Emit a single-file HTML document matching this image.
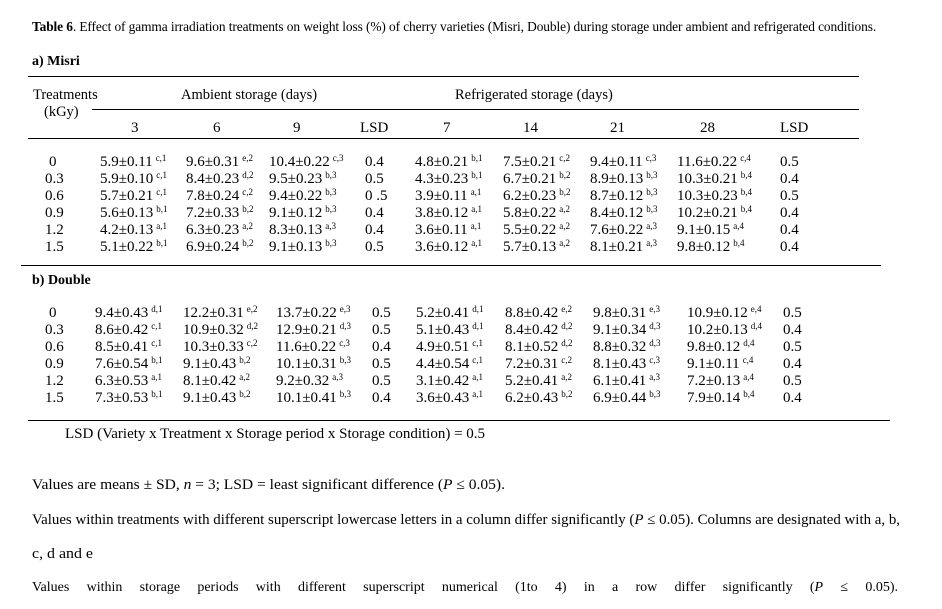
<!DOCTYPE html>
<html><head><meta charset="utf-8">
<style>
body{margin:0;background:#fff;}
#pg{position:relative;width:942px;height:609px;overflow:hidden;font-family:"Liberation Serif",serif;color:#000;}
.t{position:absolute;white-space:nowrap;font-size:15px;line-height:16px;}
.t sup{font-size:9px;vertical-align:5px;line-height:0;margin-left:3px;}
.r{position:absolute;height:1px;background:#000;}
b{font-weight:bold;}
</style></head><body>
<div id="pg">
<div class="t" style="left:32px;top:18px;width:866px;font-size:13.4px;white-space:normal;text-align:justify;line-height:18px;letter-spacing:-0.1px"><b>Table 6</b>. Effect of gamma irradiation treatments on weight loss (%) of cherry varieties (Misri, Double) during storage under ambient and refrigerated conditions.</div>
<div class="t" style="left:32px;top:54px;font-size:14px"><b>a) Misri</b></div>
<div class="r" style="left:28px;top:76px;width:831px"></div>
<div class="t" style="left:33px;top:87px;font-size:14.5px">Treatments</div>
<div class="t" style="left:44px;top:104px;font-size:14.5px">(kGy)</div>
<div class="t" style="left:181px;top:87px;font-size:14.5px">Ambient storage (days)</div>
<div class="t" style="left:455px;top:87px;font-size:14.5px">Refrigerated storage (days)</div>
<div class="r" style="left:92px;top:109px;width:767px"></div>
<div class="r" style="left:28px;top:138px;width:831px"></div>
<div class="r" style="left:21px;top:265px;width:860px"></div>
<div class="t" style="left:32px;top:273px;font-size:14px"><b>b) Double</b></div>
<div class="r" style="left:28px;top:420px;width:862px"></div>
<div class="t" style="left:65px;top:426px;font-size:15px">LSD (Variety x Treatment x Storage period x Storage condition) = 0.5</div>
<svg style="position:absolute;left:0;top:0" width="942" height="609">
<text x="32" y="489" font-family="Liberation Serif" font-size="15" textLength="473" lengthAdjust="spacingAndGlyphs">Values are means ± SD, <tspan font-style="italic">n</tspan> = 3; LSD = least significant difference (<tspan font-style="italic">P</tspan> ≤ 0.05).</text>
<text x="32" y="524" font-family="Liberation Serif" font-size="15" textLength="868" lengthAdjust="spacingAndGlyphs">Values within treatments with different superscript lowercase letters in a column differ significantly (<tspan font-style="italic">P</tspan> ≤ 0.05). Columns are designated with a, b,</text>
<text x="32" y="558" font-family="Liberation Serif" font-size="15" textLength="61" lengthAdjust="spacingAndGlyphs">c, d and e</text>
</svg>
<div class="t" style="left:32px;top:580px;width:866px;font-size:14px;white-space:normal;text-align:justify;text-align-last:justify">Values within storage periods with different superscript numerical (1to 4) in a row differ significantly (<i>P</i> ≤ 0.05).</div>
</div>
<script>
var colHeaders=["3","6","9","LSD","7","14","21","28","LSD"];
var colHeaderX=[131,213,293,360,443,523,610,700,780];
var treatments=["0","0.3","0.6","0.9","1.2","1.5"];
var misri=[
["5.9±0.11|c,1","9.6±0.31|e,2","10.4±0.22|c,3","0.4","4.8±0.21|b,1","7.5±0.21|c,2","9.4±0.11|c,3","11.6±0.22|c,4","0.5"],
["5.9±0.10|c,1","8.4±0.23|d,2","9.5±0.23|b,3","0.5","4.3±0.23|b,1","6.7±0.21|b,2","8.9±0.13|b,3","10.3±0.21|b,4","0.4"],
["5.7±0.21|c,1","7.8±0.24|c,2","9.4±0.22|b,3","0 .5","3.9±0.11|a,1","6.2±0.23|b,2","8.7±0.12|b,3","10.3±0.23|b,4","0.5"],
["5.6±0.13|b,1","7.2±0.33|b,2","9.1±0.12|b,3","0.4","3.8±0.12|a,1","5.8±0.22|a,2","8.4±0.12|b,3","10.2±0.21|b,4","0.4"],
["4.2±0.13|a,1","6.3±0.23|a,2","8.3±0.13|a,3","0.4","3.6±0.11|a,1","5.5±0.22|a,2","7.6±0.22|a,3","9.1±0.15|a,4","0.4"],
["5.1±0.22|b,1","6.9±0.24|b,2","9.1±0.13|b,3","0.5","3.6±0.12|a,1","5.7±0.13|a,2","8.1±0.21|a,3","9.8±0.12|b,4","0.4"]];
var dbl=[
["9.4±0.43|d,1","12.2±0.31|e,2","13.7±0.22|e,3","0.5","5.2±0.41|d,1","8.8±0.42|e,2","9.8±0.31|e,3","10.9±0.12|e,4","0.5"],
["8.6±0.42|c,1","10.9±0.32|d,2","12.9±0.21|d,3","0.5","5.1±0.43|d,1","8.4±0.42|d,2","9.1±0.34|d,3","10.2±0.13|d,4","0.4"],
["8.5±0.41|c,1","10.3±0.33|c,2","11.6±0.22|c,3","0.4","4.9±0.51|c,1","8.1±0.52|d,2","8.8±0.32|d,3","9.8±0.12|d,4","0.5"],
["7.6±0.54|b,1","9.1±0.43|b,2","10.1±0.31|b,3","0.5","4.4±0.54|c,1","7.2±0.31|c,2","8.1±0.43|c,3","9.1±0.11|c,4","0.4"],
["6.3±0.53|a,1","8.1±0.42|a,2","9.2±0.32|a,3","0.5","3.1±0.42|a,1","5.2±0.41|a,2","6.1±0.41|a,3","7.2±0.13|a,4","0.5"],
["7.3±0.53|b,1","9.1±0.43|b,2","10.1±0.41|b,3","0.4","3.6±0.43|a,1","6.2±0.43|b,2","6.9±0.44|b,3","7.9±0.14|b,4","0.4"]];
var misriX=[100,186,269,365,415,503,590,677,780];
var dblX=[95,183,276,372,416,505,593,687,783];
var pg=document.getElementById('pg');
function put(txt,x,y,name){
  var d=document.createElement('div');
  d.className='t';
  
  
  var p=txt.split('|');
  d.textContent=p[0];
  if(p[1]){var s=document.createElement('sup');s.textContent=p[1];d.appendChild(s);}
  d.style.left=x+'px';d.style.top=(y-8)+'px';
  pg.appendChild(d);
}
colHeaders.forEach(function(h,i){put(h,colHeaderX[i],128,'column-header');});
function block(data,xs,y0,tx,prefix){
  data.forEach(function(row,r){
    var y=y0+r*16.9;
    put(treatments[r],tx+(treatments[r].length===1?4:0),y,prefix+'-treatment-label');
    row.forEach(function(c,i){put(c,xs[i],y,prefix+'-cell');});
  });
}
block(misri,misriX,162,45,'misri');
block(dbl,dblX,313,45,'double');
</script>
</body></html>
